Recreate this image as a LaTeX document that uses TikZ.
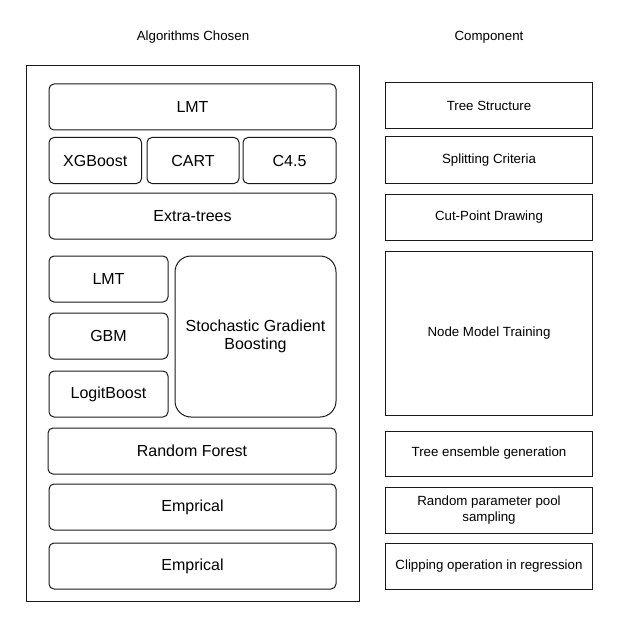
\documentclass[tikz,border=0pt]{standalone}
\usepackage{fontspec}
\setmainfont{Liberation Sans}
\begin{document}
\begin{tikzpicture}[
    x=1pt, y=-1pt,
    algbox/.style={rectangle, draw=black!90, line width=1pt, rounded corners=5pt, inner sep=0pt, font=\fontsize{16}{18.5}\selectfont, align=center},
    compbox/.style={rectangle, draw=black!90, line width=1pt, inner sep=0pt, font=\fontsize{13.3}{16}\selectfont, align=center},
    frame/.style={rectangle, draw=black!90, line width=1pt, inner sep=0pt},
    title/.style={font=\fontsize{13.3}{16}\selectfont},
]
\useasboundingbox (0,0) rectangle (620,631);

% column titles
\node[title] (algtitle) at (193,37) {Algorithms Chosen};
\node[title] (comptitle) at (489,37) {Component};

% left column
\node[frame, minimum width=333pt, minimum height=535pt] (algframe) at (193,333.5) {};
\node[algbox, minimum width=287pt, minimum height=46pt] (lmt) at (192.5,107) {LMT};
\node[algbox, minimum width=92.5pt, minimum height=46pt] (xgb) at (95.25,160.5) {XGBoost};
\node[algbox, minimum width=92pt, minimum height=46pt] (cart) at (193,160.5) {CART};
\node[algbox, minimum width=93pt, minimum height=46pt] (cfour) at (289.5,160.5) {C4.5};
\node[algbox, minimum width=287pt, minimum height=46pt] (extra) at (192.5,216) {Extra-trees};
\node[algbox, minimum width=119pt, minimum height=46pt] (lmtb) at (108.5,279) {LMT};
\node[algbox, minimum width=119pt, minimum height=46pt] (gbm) at (108.5,336) {GBM};
\node[algbox, minimum width=119pt, minimum height=46pt] (logit) at (108.5,394) {LogitBoost};
\node[algbox, rounded corners=16pt, minimum width=161pt, minimum height=161pt] (sgb) at (255.5,336.5) {Stochastic Gradient\\Boosting};
\node[algbox, minimum width=288pt, minimum height=46pt] (rf) at (192,451) {Random Forest};
\node[algbox, minimum width=287pt, minimum height=46pt] (empa) at (192.5,507) {Emprical};
\node[algbox, minimum width=287pt, minimum height=46pt] (empb) at (192.5,566) {Emprical};

% right column
\node[compbox, minimum width=207pt, minimum height=46pt] (tree) at (489,106) {Tree Structure};
\node[compbox, minimum width=207pt, minimum height=46pt] (split) at (489,160) {Splitting Criteria};
\node[compbox, minimum width=207pt, minimum height=46pt] (cut) at (489,217) {Cut-Point Drawing};
\node[compbox, minimum width=207pt, minimum height=164pt] (nodemodel) at (489,333) {Node Model Training};
\node[compbox, minimum width=207pt, minimum height=45pt] (ensemble) at (489,453.5) {Tree ensemble generation};
\node[compbox, minimum width=207pt, minimum height=46pt] (pool) at (489,510) {Random parameter pool\\sampling};
\node[compbox, minimum width=207pt, minimum height=46pt] (clip) at (489,566) {Clipping operation in regression};
\end{tikzpicture}
\end{document}
